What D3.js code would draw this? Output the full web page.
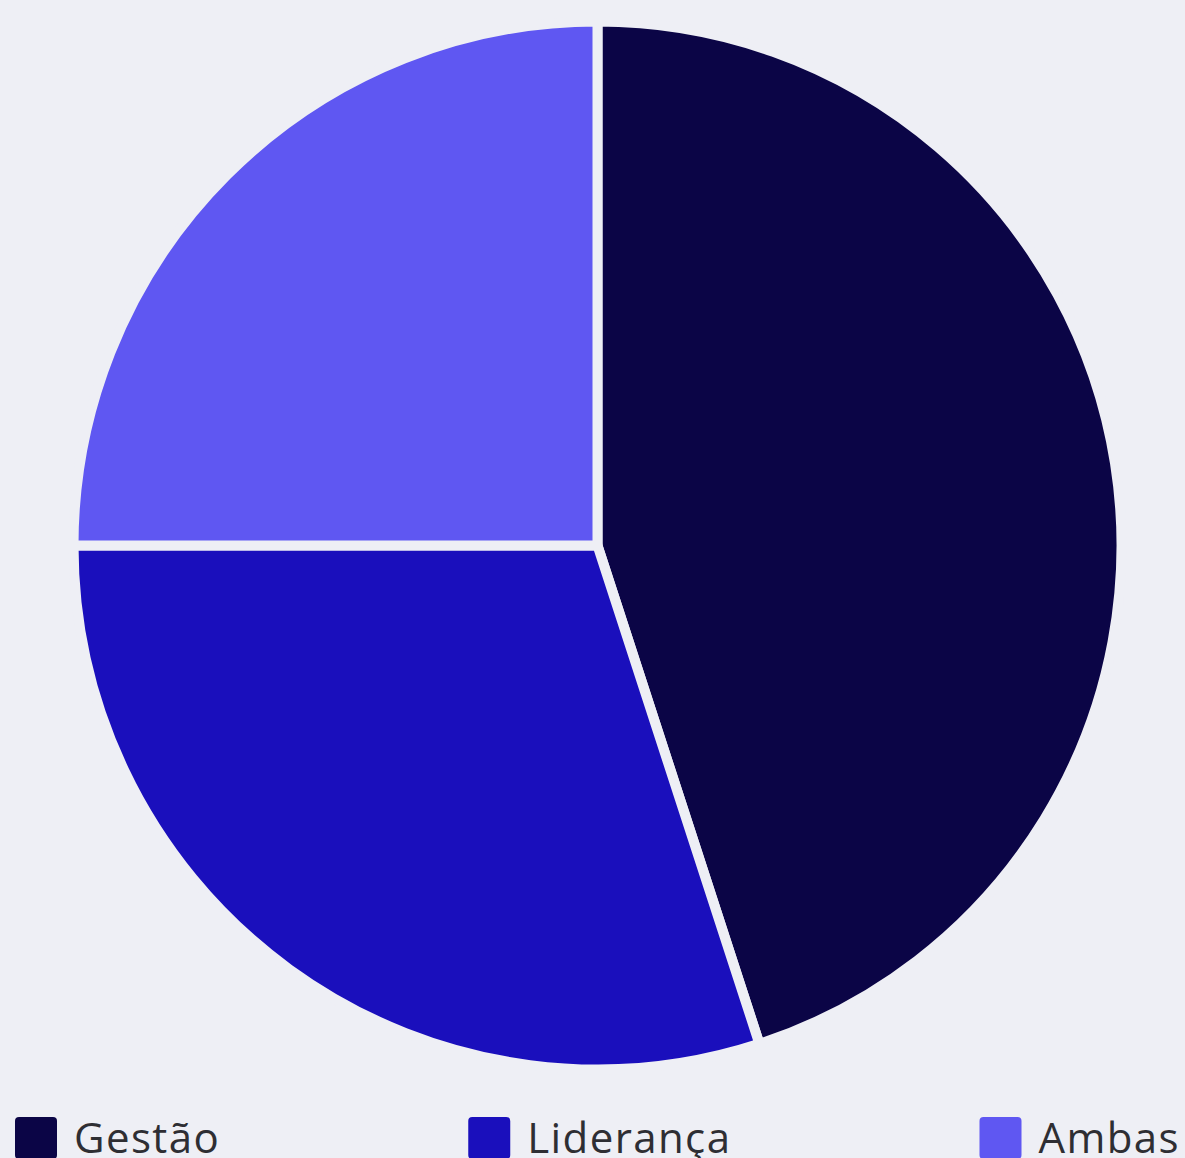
<!DOCTYPE html>
<html>
<head>
<meta charset="utf-8">
<script src="https://cdn.jsdelivr.net/npm/d3@7"></script>
<style>
  html, body { margin: 0; padding: 0; background: #eeeff5; overflow: hidden; }
</style>
</head>
<body>
<script>
const categories = ["Gestão", "Liderança", "Ambas"];
const values = [45, 30, 25];
const colors = ["#0b0546", "#1a0fbc", "#5f57f2"];

const width = 1185
const height = 1158
const bg = "#eeeff5"

const svg = d3.select("body").append("svg")
  .attr("width", width)
  .attr("height", height)
  .attr("xmlns", "http://www.w3.org/2000/svg")

svg.append("rect").attr("width", width).attr("height", height).attr("fill", bg)

const cx = 597.5, cy = 545.5, radius = 524

const color = d3.scaleOrdinal().domain(categories).range(colors)

const pie = d3.pie().sort(null).value((d, i) => values[i])
const arc = d3.arc().innerRadius(0).outerRadius(radius)

svg.append("g")
  .attr("transform", `translate(${cx},${cy})`)
  .selectAll("path")
  .data(pie(categories))
  .enter().append("path")
  .attr("d", arc)
  .attr("fill", d => color(d.data))
  .attr("stroke", bg)
  .attr("stroke-width", 10)
  .attr("stroke-linejoin", "miter")

// legend, spread across the bottom (the reference cuts it off too)
const box = 42, gap = 17, left = 15, right = 1180
const legend = svg.append("g").attr("class", "legend")
const items = legend.selectAll("g")
  .data(categories)
  .enter().append("g")

items.append("rect")
  .attr("width", box)
  .attr("height", box)
  .attr("y", 1117)
  .attr("rx", 4)
  .attr("fill", d => color(d))

items.append("text")
  .attr("x", box + gap)
  .attr("y", 1153)
  .attr("style", "font-family:'Open Sans', sans-serif; font-size:42px; letter-spacing:1.4px;")
  .attr("fill", "#2e2e33")
  .text(d => d)

const widths = []
items.each(function () { widths.push(this.getBBox().width) })
const total = d3.sum(widths)
const space = (right - left - total) / (categories.length - 1)
let x = left
items.attr("transform", (d, i) => {
  const t = `translate(${x},0)`
  x += widths[i] + space
  return t
})
</script>
</body>
</html>
